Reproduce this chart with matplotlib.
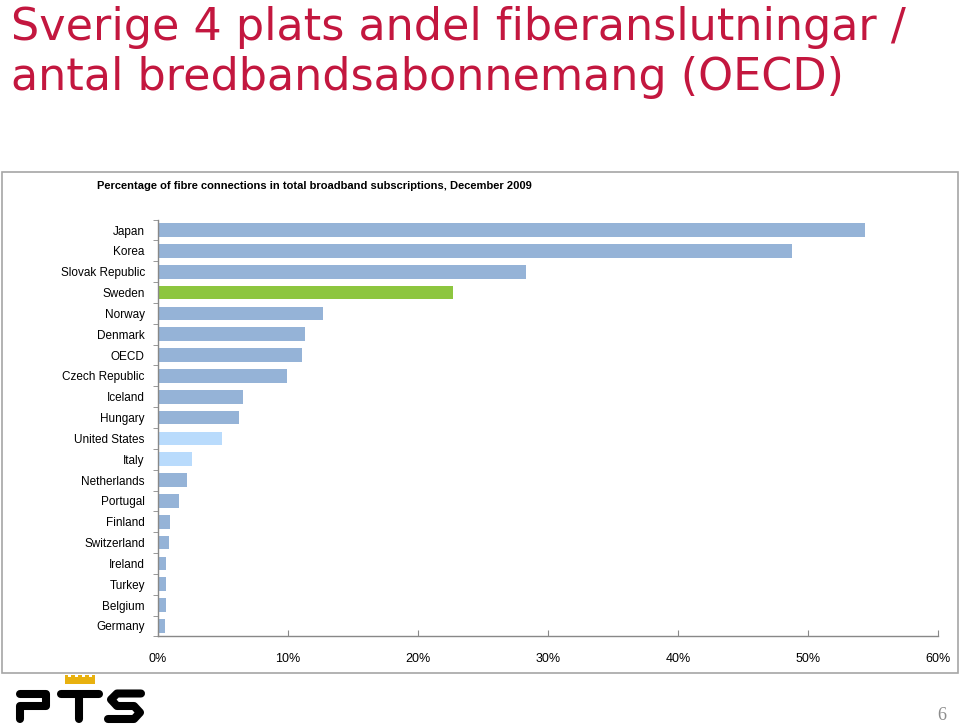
import matplotlib
matplotlib.use("Agg")
import matplotlib.pyplot as plt
from matplotlib.lines import Line2D
from matplotlib.patches import Rectangle

countries = ["Japan", "Korea", "Slovak Republic", "Sweden", "Norway", "Denmark", "OECD",
             "Czech Republic", "Iceland", "Hungary", "United States", "Italy", "Netherlands",
             "Portugal", "Finland", "Switzerland", "Ireland", "Turkey", "Belgium", "Germany"]
values = [54.4, 48.8, 28.3, 22.7, 12.7, 11.3, 11.1, 9.95, 6.55, 6.2, 4.9, 2.65, 2.2,
          1.6, 0.9, 0.85, 0.65, 0.65, 0.6, 0.55]
x_ticks = [0, 10, 20, 30, 40, 50, 60]
x_tick_labels = ["0%", "10%", "20%", "30%", "40%", "50%", "60%"]

BLUE = "#95B3D7"
GREEN = "#8DC63F"
LIGHT = "#B9DBFC"
colors = []
for c in countries:
    if c == "Sweden":
        colors.append(GREEN)
    elif c in ("United States", "Italy"):
        colors.append(LIGHT)
    else:
        colors.append(BLUE)

W, H = 960, 725
fig = plt.figure(figsize=(9.6, 7.25), dpi=100)
fig.patch.set_facecolor("white")

def fx(x):
    return x / W

def fy(y):
    return 1 - y / H

# Slide title
fig.text(fx(11), fy(40), "Sverige 4 plats andel fiberanslutningar /", fontsize=32,
         color="#C3173F", family="DejaVu Sans", va="baseline", ha="left")
fig.text(fx(11), fy(90), "antal bredbandsabonnemang (OECD)", fontsize=32,
         color="#C3173F", family="DejaVu Sans", va="baseline", ha="left")

# Chart frame
fig.patches.append(Rectangle((fx(2), fy(673)), fx(956), (673 - 172) / H,
                             transform=fig.transFigure, fill=False,
                             edgecolor="#A6A6A6", linewidth=1.2))

fig.text(fx(97), fy(186), "Percentage of fibre connections in total broadband subscriptions, December 2009",
         fontsize=8, fontweight="bold", family="Liberation Sans", va="center", ha="left")

ax = fig.add_axes([fx(158), fy(636.4), fx(938 - 158), (636.4 - 219.6) / H])
pos = list(range(len(countries)))
ax.barh(pos, values, height=0.66, color=colors, edgecolor="none")
ax.set_ylim(len(countries) - 0.5, -0.5)
ax.set_xlim(0, 60)
ax.set_xticks(x_ticks)
ax.set_xticklabels(x_tick_labels, family="Liberation Sans", fontsize=9)
ax.set_yticks(pos)
ax.set_yticklabels(countries, family="Liberation Sans", fontsize=8.5)
ax.set_yticks([p - 0.5 for p in pos] + [len(countries) - 0.5], minor=True)
ax.tick_params(axis="y", which="major", length=0, pad=9.5)
ax.tick_params(axis="y", which="minor", length=3.5, color="#888888", direction="out")
ax.tick_params(axis="x", which="major", length=4, color="#888888", direction="in", pad=12)
for s in ("top", "right"):
    ax.spines[s].set_visible(False)
for s in ("left", "bottom"):
    ax.spines[s].set_color("#888888")
    ax.spines[s].set_linewidth(1.0)

# PTS logo
lw = 5.8
def stroke(pts, color="black"):
    xs = [fx(p[0]) for p in pts]
    ys = [fy(p[1]) for p in pts]
    fig.lines.append(Line2D(xs, ys, transform=fig.transFigure, color=color, linewidth=lw,
                            solid_capstyle="round", solid_joinstyle="round"))

stroke([(20, 693.5), (46, 693.5), (46, 706), (20, 706), (20, 719)])
stroke([(61, 693.5), (99, 693.5)])
stroke([(79, 693.5), (79, 719)])
stroke([(141, 693.5), (117, 693.5), (111, 699.5), (117, 706), (134, 706), (140, 712.5), (134, 719), (108, 719)])
# crown
fig.patches.append(Rectangle((fx(65), fy(684)), fx(30), 9 / H, transform=fig.transFigure,
                             facecolor="#E8B10F", edgecolor="none"))
for cx in (68, 75, 82, 89):
    fig.patches.append(Rectangle((fx(cx), fy(677)), fx(3), 3 / H, transform=fig.transFigure,
                                 facecolor="white", edgecolor="none"))

fig.text(fx(942), fy(716), "6", fontsize=13, color="#8C8C8C", family="Liberation Serif",
         va="center", ha="center")

fig.savefig("out.png", dpi=100, facecolor="white")
